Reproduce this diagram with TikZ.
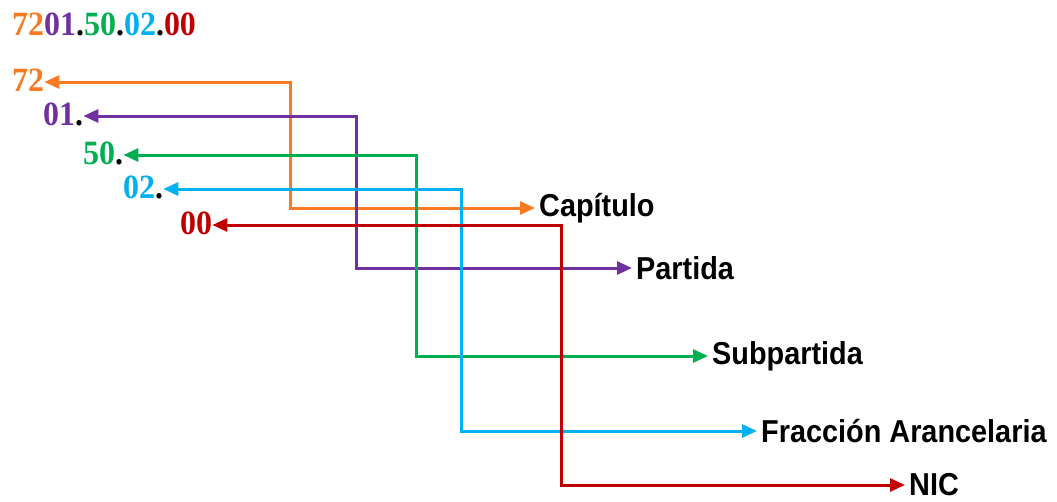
\documentclass[tikz,border=0pt]{standalone}
\usepackage{fontspec}
\setmainfont{Liberation Serif}
\setsansfont{Liberation Sans}
\usetikzlibrary{arrows.meta}
\definecolor{cOr}{HTML}{F97A23}
\definecolor{cPu}{HTML}{7030A0}
\definecolor{cGr}{HTML}{00B050}
\definecolor{cBl}{HTML}{00B0F0}
\definecolor{cRe}{HTML}{C00000}
\newcommand{\dig}[1]{\scalebox{0.94}[1]{#1}}
\newcommand{\lab}[1]{\scalebox{0.91}[1]{#1}}
\begin{document}
\begin{tikzpicture}[x=1pt,y=-1pt,
  code/.style={inner sep=0pt, anchor=west, text height=23pt, text depth=5pt,
    font=\fontsize{34}{36}\selectfont\bfseries\rmfamily},
  term/.style={inner xsep=4pt, inner ysep=0pt, anchor=west,
    font=\fontsize{31.7}{34}\selectfont\bfseries\sffamily},
  link/.style={line width=3pt,
    {Triangle[length=15pt,width=13pt]}-{Triangle[length=15pt,width=13pt]}}]
\useasboundingbox (0,0) rectangle (1057,501);

\node[inner sep=0pt, anchor=base west, font=\fontsize{34}{36}\selectfont\bfseries\rmfamily] (full) at (12,35)
  {\dig{\color{cOr}72\color{cPu}01\color{black}.\color{cGr}50\color{black}.\color{cBl}02\color{black}.\color{cRe}00}};

\node[code] (n72) at (12,82) {\dig{\color{cOr}72}};
\node[code] (n01) at (43,116) {\dig{\color{cPu}01\color{black}.}};
\node[code] (n50) at (83,155) {\dig{\color{cGr}50\color{black}.}};
\node[code] (n02) at (123,189) {\dig{\color{cBl}02\color{black}.}};
\node[code] (n00) at (180,225) {\dig{\color{cRe}00}};

\node[term] (cap) at (535,208) {\lab{Capítulo}};
\node[term] (par) at (632,268) {\lab{Partida}};
\node[term] (sub) at (708,356) {\lab{Subpartida}};
\node[term] (fra) at (757,431) {\lab{Fracción Arancelaria}};
\node[term] (nic) at (905,485) {\lab{NIC}};

\coordinate (vOr) at (290,150);
\coordinate (vPu) at (356,150);
\coordinate (vGr) at (416,250);
\coordinate (vBl) at (461,250);
\coordinate (vRe) at (561,300);

\draw[link, cOr] (n72.east) -| (vOr) |- (cap.west);
\draw[link, cPu] (n01.east) -| (vPu) |- (par.west);
\draw[link, cGr] (n50.east) -| (vGr) |- (sub.west);
\draw[link, cBl] (n02.east) -| (vBl) |- (fra.west);
\draw[link, cRe] (n00.east) -| (vRe) |- (nic.west);
\end{tikzpicture}
\end{document}
